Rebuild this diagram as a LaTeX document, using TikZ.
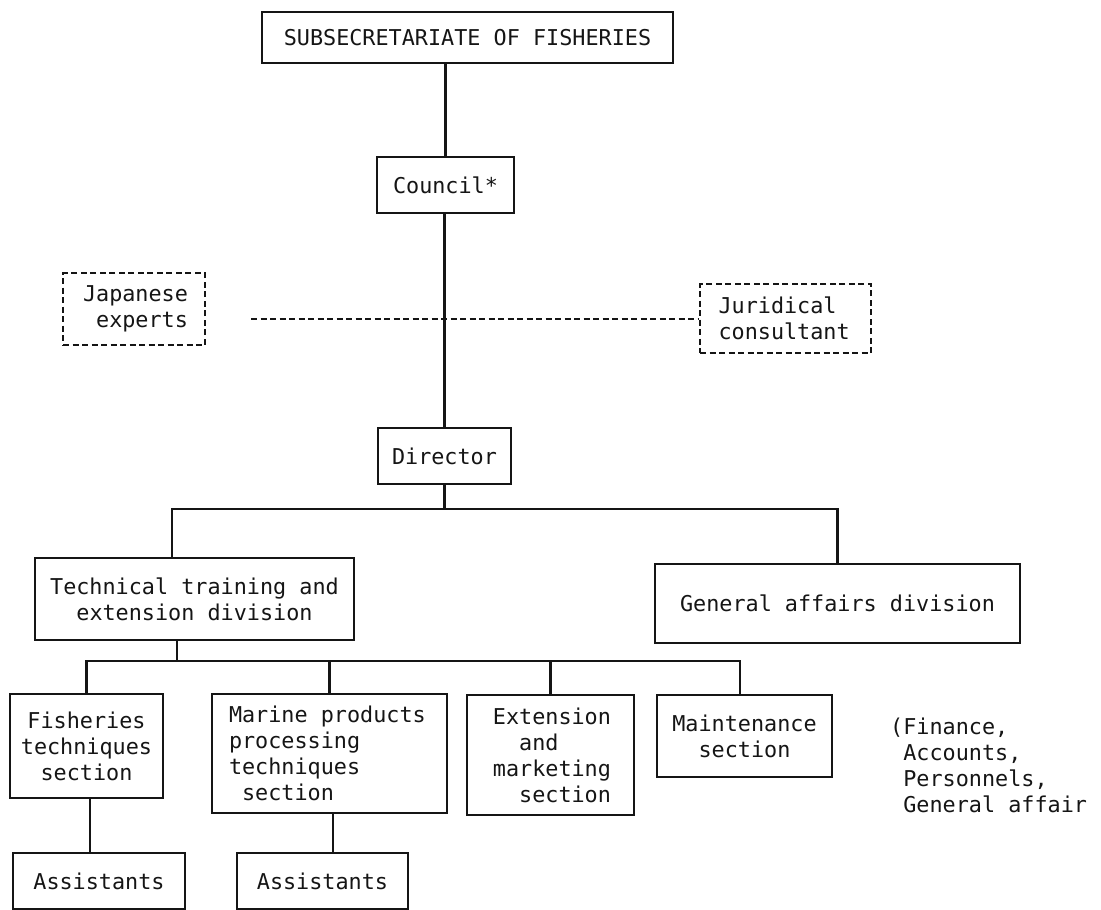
\documentclass[tikz,border=0pt]{standalone}
\usepackage{fontspec}
\setmonofont{DejaVu Sans Mono}
\usepackage{xcolor}
\definecolor{orgink}{HTML}{151515}
\usepackage{tikz}
\usetikzlibrary{positioning,calc}
\tikzset{
  orgbox/.style={draw=orgink,line width=2pt,inner sep=0pt,align=center,font=\ttfamily\fontsize{21.8}{26}\selectfont,text=orgink},
  orgdash/.style={orgbox,dash pattern=on 6pt off 3.5pt},
  orgline/.style={draw=orgink,line width=2.8pt},
  orglink/.style={draw=orgink,line width=2pt,dash pattern=on 6pt off 3.5pt},
  orgnote/.style={inner sep=0pt,align=left,font=\ttfamily\fontsize{21.8}{26}\selectfont,text=orgink},
}

\begin{document}
\begin{tikzpicture}[x=1pt,y=-1pt]
\useasboundingbox (0,0) rectangle (1101,910);
 % head and council
\node[orgbox,minimum width=411pt,minimum height=51pt] (subsec) at (467.5,37.5){SUBSECRETARIATE OF FISHERIES};
\node[orgbox,minimum width=137pt,minimum height=56pt] (council) at (445.5,185){Council*};
\node[orgdash,minimum width=142pt,minimum height=72pt,text width=108pt,align=right] (jap) at (134,309){Japanese\\experts};
\node[orgdash,minimum width=171pt,minimum height=69pt,text width=134pt,align=left] (jur) at (785.5,318.5){Juridical\\consultant};
\node[orgbox,minimum width=133pt,minimum height=56pt] (director) at (444.5,456){Director};
 % divisions
\node[orgbox,minimum width=319pt,minimum height=82pt] (tech) at (194.5,599){Technical training and\\extension division};
\node[orgbox,minimum width=365pt,minimum height=79pt] (gen) at (837.5,603.5){General affairs division};
 % sections
\node[orgbox,minimum width=153pt,minimum height=104pt] (fish) at (86.5,746){Fisheries\\techniques\\section};
\node[orgbox,minimum width=235pt,minimum height=119pt,text width=201pt,align=left] (marine) at (329.5,753.5){Marine\hspace{0.602em}products\\processing\\techniques\\\hspace*{0.6em}section};
\node[orgbox,minimum width=167pt,minimum height=120pt,text width=121pt,align=right] (ext) at (550.5,755){Extension\\and\phantom{xxxx}\\marketing\\section};
\node[orgbox,minimum width=175pt,minimum height=82pt] (maint) at (744.5,736){Maintenance\\section};
\node[orgnote,anchor=north west] (genlist) at (890,718){(Finance,\\\phantom{(}Accounts,\\\phantom{(}Personnels,\\\phantom{(}General affair};
\node[orgbox,minimum width=172pt,minimum height=56pt] (assist1) at (99,881){Assistants};
\node[orgbox,minimum width=171pt,minimum height=56pt] (assist2) at (322.5,881){Assistants};
 % connectors
\draw[orgline] (council.north) -- (council.north |- subsec.south);
\draw[orgline] (director.north) -- (director.north |- council.south);
\path ([xshift=45pt]jap.east) coordinate (japgap);
\draw[orglink] (japgap |- jur.west) -- (jur.west);
\draw[orgline] (director.south) -- ++(0,24) coordinate (divbar);
\path ([xshift=-22.5pt]tech.north) coordinate (techdrop);
\draw[orgline] (techdrop) |- (divbar) -| (gen.north);
\draw[orgline] ([xshift=-17.5pt]tech.south) -- ++(0,20) coordinate (secbar);
\path ([xshift=-4.5pt]maint.north) coordinate (maintdrop);
\draw[orgline] (fish.north) |- (secbar) -| (maintdrop);
\draw[orgline] (marine.north) -- (marine.north |- secbar);
\draw[orgline] (ext.north) -- (ext.north |- secbar);
\path ([xshift=3.5pt]fish.south) coordinate (fishdrop);
\draw[orgline] (fishdrop) -- (fishdrop |- assist1.north);
\path ([xshift=3.5pt]marine.south) coordinate (marinedrop);
\draw[orgline] (marinedrop) -- (marinedrop |- assist2.north);
\end{tikzpicture}
\end{document}
